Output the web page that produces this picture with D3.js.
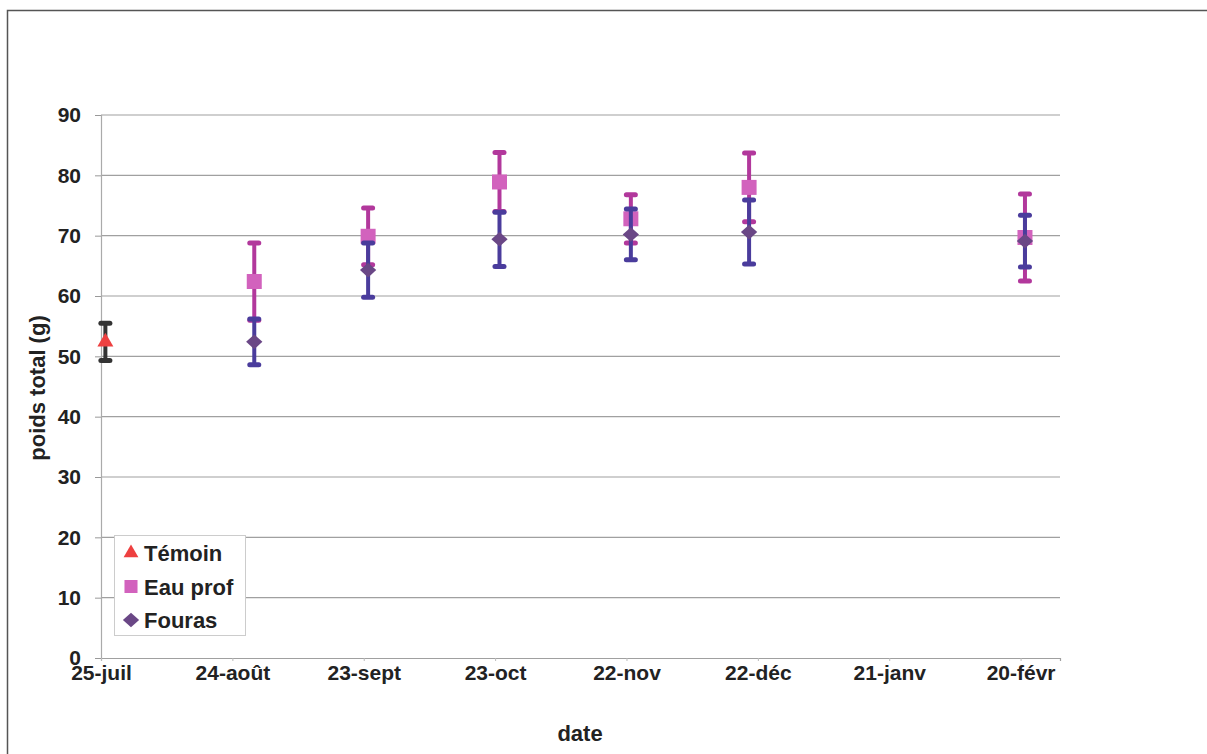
<!DOCTYPE html>
<html><head><meta charset="utf-8">
<script src="https://cdn.jsdelivr.net/npm/d3@7"></script>
<style>
html,body{margin:0;padding:0;background:#fff;overflow:hidden;}
text{font-family:"Liberation Sans",Arial,sans-serif;font-weight:bold;fill:#222;}
</style></head>
<body><svg id="c" width="1207" height="754" style="display:block"></svg>
<script>
// ---- data ----
const tickLabels = ["25-juil","24-août","23-sept","23-oct","22-nov","22-déc","21-janv","20-févr"];
const yTicks = [0,10,20,30,40,50,60,70,80,90];
const temoinDates = ["2006-07-26"];
const temoinMean = [52.4];
const temoinErr = [3.1];
const sampleDates = ["2006-08-29","2006-09-24","2006-10-24","2006-11-23","2006-12-20","2007-02-21"];
const eauMean = [62.4, 69.9, 78.9, 72.8, 78.0, 69.7];
const eauErr = [6.4, 4.7, 4.9, 4.0, 5.7, 7.2];
const fourasMean = [52.4, 64.3, 69.4, 70.2, 70.6, 69.1];
const fourasErr = [3.8, 4.5, 4.5, 4.2, 5.3, 4.3];
const seriesNames = ["Témoin","Eau prof","Fouras"];

const svg = d3.select("#c");
const parse = d3.utcParse("%Y-%m-%d");
const start = parse("2006-07-25");
const x = d3.scaleUtc().domain([start, parse("2007-03-01")]).range([101, 1060]);
const y = d3.scaleLinear().domain([0, 90]).range([658, 115]);
const tickDates = tickLabels.map((_, i) => d3.utcDay.offset(start, 30 * i));

// frame
svg.append("path").attr("d","M7.5,754 L7.5,10.5 L1207,10.5").attr("fill","none").attr("stroke","#555").attr("stroke-width",1.5);

// gridlines
svg.append("g").selectAll("line").data(yTicks.filter(v=>v>0)).join("line")
  .attr("x1",101).attr("x2",1060).attr("y1",d=>y(d)).attr("y2",d=>y(d))
  .attr("stroke","#a0a0a0").attr("stroke-width",1.2);

// y axis
const ya = svg.append("g").attr("transform","translate(101,0)")
  .call(d3.axisLeft(y).tickValues(yTicks).tickSize(6).tickPadding(14));
ya.select(".domain").attr("stroke","#aaa").attr("stroke-width",1.2);
ya.selectAll(".tick line").attr("stroke","#999");
ya.selectAll("text").style("font-size","21px").attr("fill","#222");

// x axis
const xa = svg.append("g").attr("transform","translate(0,658)")
  .call(d3.axisBottom(x).tickValues(tickDates).tickFormat((d,i)=>tickLabels[i]).tickSize(3));
xa.select(".domain").attr("stroke","#a0a0a0").attr("stroke-width",1.2);
xa.selectAll(".tick line").attr("stroke","#bbb");
xa.selectAll("text").attr("dy",null).attr("y",22).style("font-size","21px").attr("fill","#222");

// titles
svg.append("text").attr("x",580).attr("y",741).attr("text-anchor","middle").style("font-size","22px").text("date");
svg.append("text").attr("transform","translate(45,388) rotate(-90)").attr("text-anchor","middle").style("font-size","22px").text("poids total (g)");

function errBars(dates, mean, err, color){
  const g = svg.append("g");
  const d = dates.map((t,i)=>({x:x(parse(t)), m:mean[i], e:err[i]}));
  g.selectAll("line.v").data(d).join("line")
    .attr("x1",p=>p.x).attr("x2",p=>p.x).attr("y1",p=>y(p.m+p.e)).attr("y2",p=>y(p.m-p.e))
    .attr("stroke",color).attr("stroke-width",4);
  [1,-1].forEach(s=>{
    g.selectAll("line.c"+s).data(d).join("line")
      .attr("x1",p=>p.x-4.5).attr("x2",p=>p.x+4.5).attr("y1",p=>y(p.m+s*p.e)).attr("y2",p=>y(p.m+s*p.e))
      .attr("stroke",color).attr("stroke-width",5).attr("stroke-linecap","round");
  });
}
function markers(dates, mean, type, size, color){
  svg.append("g").selectAll("path").data(dates.map((t,i)=>({x:x(parse(t)), m:mean[i]}))).join("path")
    .attr("d", d3.symbol().type(type).size(size))
    .attr("transform",p=>`translate(${p.x},${y(p.m)})`).attr("fill",color);
}
const triUp = d3.symbolTriangle;
const diamond = {draw(ctx,size){const r=Math.sqrt(size)/1.4;ctx.moveTo(0,-r*0.9);ctx.lineTo(r,0);ctx.lineTo(0,r*0.9);ctx.lineTo(-r,0);ctx.closePath();}};

errBars(temoinDates, temoinMean, temoinErr, "#333");
markers(temoinDates, temoinMean, triUp, 110, "#ee4040");
errBars(sampleDates, eauMean, eauErr, "#b2389c");
markers(sampleDates, eauMean, d3.symbolSquare, 225, "#d262bd");
errBars(sampleDates, fourasMean, fourasErr, "#4a3c9c");
markers(sampleDates, fourasMean, diamond, 130, "#6a4786");

// legend
const lg = svg.append("g");
lg.append("rect").attr("x",114.5).attr("y",535.5).attr("width",131).attr("height",100).attr("fill","#fff").attr("stroke","#ccc");
const legSym = [[triUp,95,"#ee4040"],[d3.symbolSquare,170,"#d262bd"],[diamond,130,"#6a4786"]];
seriesNames.forEach((n,i)=>{
  const cy = 553 + i*33.5;
  lg.append("path").attr("d",d3.symbol().type(legSym[i][0]).size(legSym[i][1])).attr("transform",`translate(131,${cy})`).attr("fill",legSym[i][2]);
  lg.append("text").attr("x",144).attr("y",cy+8).style("font-size","22px").text(n);
});
</script></body></html>
